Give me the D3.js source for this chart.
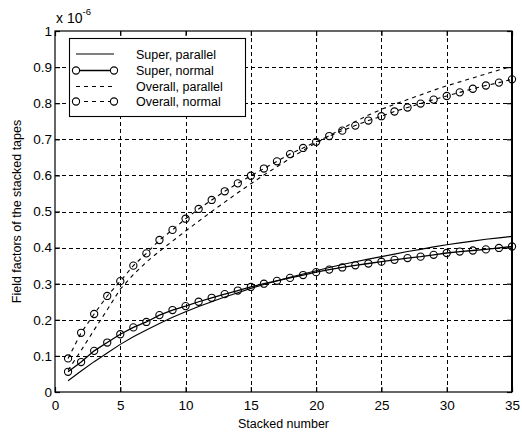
<!DOCTYPE html>
<html>
<head>
<meta charset="utf-8">
<script src="https://cdn.jsdelivr.net/npm/d3@7"></script>
<style>
  body { margin: 0; background: #fff; }
  svg { font-family: "Liberation Sans", Arial, sans-serif; }
</style>
</head>
<body>
<script>
// field factors vs stacked number (units of 1e-6)

var stacked = [1,2,3,4,5,6,7,8,9,10,11,12,13,14,15,16,17,18,19,20,
               21,22,23,24,25,26,27,28,29,30,31,32,33,34,35];

var superParallel = [0.031,0.058,0.084,0.108,0.132,0.153,0.172,0.190,0.207,0.222,
                     0.237,0.250,0.263,0.275,0.287,0.298,0.308,0.318,0.327,0.336,
                     0.345,0.353,0.361,0.368,0.375,0.382,0.389,0.395,0.402,0.408,
                     0.413,0.418,0.423,0.427,0.431];

var superNormal = [0.056,0.083,0.114,0.137,0.160,0.179,0.194,0.213,0.227,0.238,
                   0.250,0.261,0.271,0.281,0.291,0.300,0.308,0.316,0.324,0.332,
                   0.339,0.345,0.351,0.356,0.361,0.366,0.371,0.375,0.380,0.385,
                   0.389,0.392,0.395,0.399,0.403];

var overallParallel = [0.060,0.115,0.172,0.228,0.285,0.325,0.360,0.390,0.418,0.446,
                       0.473,0.500,0.526,0.552,0.577,0.601,0.624,0.647,0.669,0.690,
                       0.710,0.730,0.749,0.767,0.783,0.797,0.810,0.823,0.836,0.848,
                       0.859,0.870,0.881,0.892,0.902];

var overallNormal = [0.093,0.164,0.216,0.266,0.307,0.350,0.384,0.421,0.449,0.480,
                     0.507,0.532,0.556,0.578,0.599,0.619,0.639,0.659,0.676,0.693,
                     0.709,0.724,0.738,0.752,0.764,0.777,0.788,0.799,0.810,0.820,
                     0.830,0.840,0.849,0.857,0.866];

var seriesNames = ['Super, parallel','Super, normal','Overall, parallel','Overall, normal'];
var xTicks = [0,5,10,15,20,25,30,35];
var yTicks = [0,0.1,0.2,0.3,0.4,0.5,0.6,0.7,0.8,0.9,1];
var yTickLabels = ['0','0.1','0.2','0.3','0.4','0.5','0.6','0.7','0.8','0.9','1'];

var width = 522, height = 435;
var pLeft = 55, pRight = 512, pTop = 31, pBottom = 392;

var svg = d3.select('body').append('svg')
  .attr('width', width)
  .attr('height', height);

svg.append('rect').attr('width', width).attr('height', height).attr('fill', '#fff');

var xScale = d3.scaleLinear().domain([0,35]).range([pLeft,pRight]);
var yScale = d3.scaleLinear().domain([0,1]).range([pBottom,pTop]);

// grid
var grid = svg.append('g').attr('stroke','#000').attr('stroke-width',1.2)
  .attr('stroke-dasharray','4,3').attr('shape-rendering','crispEdges');
grid.selectAll('.gx').data(xTicks.slice(1,-1)).enter().append('line')
  .attr('x1', function(d){ return Math.round(xScale(d))+0.5; })
  .attr('x2', function(d){ return Math.round(xScale(d))+0.5; })
  .attr('y1', pTop).attr('y2', pBottom);
grid.selectAll('.gy').data(yTicks.slice(1,-1)).enter().append('line')
  .attr('y1', function(d){ return Math.round(yScale(d))+0.5; })
  .attr('y2', function(d){ return Math.round(yScale(d))+0.5; })
  .attr('x1', pLeft).attr('x2', pRight);

// axes, ticks inward like matlab
var fmt = function(d){ return yTickLabels[yTicks.indexOf(d)]; };
svg.append('g').attr('transform','translate(0,'+pBottom+')')
  .call(d3.axisBottom(xScale).tickValues(xTicks).tickSize(-5).tickPadding(8));
svg.append('g').attr('transform','translate(0,'+pTop+')')
  .call(d3.axisTop(xScale).tickValues(xTicks).tickSize(-5).tickFormat(''));
svg.append('g').attr('transform','translate('+pLeft+',0)')
  .call(d3.axisLeft(yScale).tickValues(yTicks).tickSize(-5).tickPadding(3).tickFormat(fmt));
svg.append('g').attr('transform','translate('+pRight+',0)')
  .call(d3.axisRight(yScale).tickValues(yTicks).tickSize(-5).tickFormat(''));

svg.selectAll('.domain').remove();
svg.selectAll('.tick line').attr('stroke','#000').attr('stroke-width',1.2);
svg.selectAll('.tick text').attr('fill','#000').style('font-size','13.5px')
  .style('font-family','"Liberation Sans", Arial, sans-serif');

svg.append('rect')
  .attr('x', pLeft).attr('y', pTop)
  .attr('width', pRight-pLeft).attr('height', pBottom-pTop)
  .attr('fill','none').attr('stroke','#000').attr('stroke-width',1.2);
svg.append('line').attr('x1',pRight).attr('x2',pRight).attr('y1',pTop).attr('y2',pBottom)
  .attr('stroke','#000').attr('stroke-width',2);

// series
var line = d3.line()
  .x(function(d){ return xScale(d[0]); })
  .y(function(d){ return yScale(d[1]); });

function pairs(vals){ return stacked.map(function(x,i){ return [x, vals[i]]; }); }

var series = [
  {name: seriesNames[0], values: superParallel, dash: null, marker: false, w: 1.1},
  {name: seriesNames[1], values: superNormal, dash: null, marker: true, w: 1.3},
  {name: seriesNames[2], values: overallParallel, dash: '4,4', marker: false, w: 1.1},
  {name: seriesNames[3], values: overallNormal, dash: '4,4', marker: true, w: 1.1}
];

var plot = svg.append('g');
series.forEach(function(s){
  plot.append('path')
    .datum(pairs(s.values))
    .attr('d', line)
    .attr('fill','none')
    .attr('stroke','#000')
    .attr('stroke-width', s.w)
    .attr('stroke-dasharray', s.dash);
  if (s.marker) {
    plot.selectAll(null).data(pairs(s.values)).enter().append('circle')
      .attr('cx', function(d){ return xScale(d[0]); })
      .attr('cy', function(d){ return yScale(d[1]); })
      .attr('r', 3.6)
      .attr('fill','none')
      .attr('stroke','#000')
      .attr('stroke-width',1.1);
  }
});

// exponent label
var expo = svg.append('text').attr('x',56).attr('y',23).style('font-size','14px').attr('fill','#000');
expo.append('tspan').text('x 10');
expo.append('tspan').attr('dy',-8).style('font-size','9.5px').text('-6');

// axis titles
svg.append('text')
  .attr('x', (pLeft+pRight)/2).attr('y', 428)
  .attr('text-anchor','middle').style('font-size','12.5px')
  .text('Stacked number');
svg.append('text')
  .attr('transform','translate(21,'+((pTop+pBottom)/2)+') rotate(-90)')
  .attr('text-anchor','middle').style('font-size','12.5px')
  .text('Field factors of the stacked tapes');

// legend
var lg = svg.append('g');
lg.append('rect').attr('x',69.5).attr('y',38.5).attr('width',176).attr('height',78)
  .attr('fill','#fff').attr('stroke','#000').attr('stroke-width',1.1);
var rowY = [54, 70.5, 86.5, 101.5];
series.forEach(function(s,i){
  var y = rowY[i];
  lg.append('line').attr('x1',76).attr('x2',114).attr('y1',y).attr('y2',y)
    .attr('stroke','#000').attr('stroke-width',s.w).attr('stroke-dasharray',s.dash);
  if (s.marker) {
    [76,114].forEach(function(cx){
      lg.append('circle').attr('cx',cx).attr('cy',y).attr('r',3.6)
        .attr('fill','#fff').attr('stroke','#000').attr('stroke-width',1.1);
    });
  }
  lg.append('text').attr('x',136).attr('y',y+4.5).style('font-size','12.5px').text(s.name);
});
</script>
</body>
</html>
